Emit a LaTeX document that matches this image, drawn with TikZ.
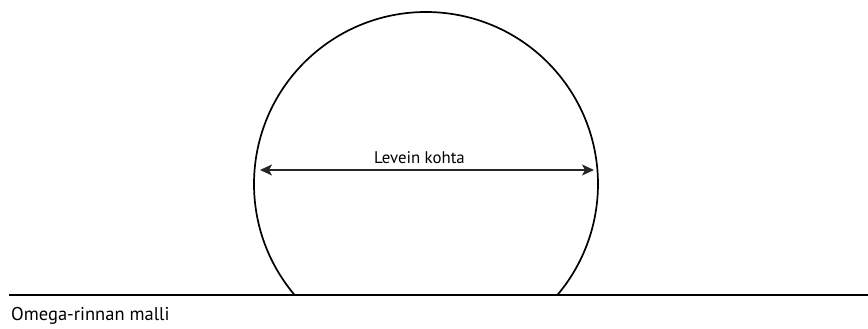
\documentclass[tikz,border=0pt]{standalone}
\usepackage{fontspec}
\setmainfont{PT Sans}
\usepackage{tikz}
\usetikzlibrary{arrows.meta,positioning,calc}

\begin{document}
\begin{tikzpicture}[
  x=1pt, y=1pt,
  outline/.style={draw=black, line width=1.7pt},
  arr/.style={{Stealth[length=12pt,width=11pt,inset=3pt]}-{Stealth[length=12pt,width=11pt,inset=3pt]}, line width=1.4pt, black!85},
  lbl/.style={inner sep=0pt, font=\fontsize{16.8}{20}\selectfont}
]
\useasboundingbox (0,0) rectangle (868,329);
% ground line and outline of the shape
\coordinate (gl) at (9,34);
\coordinate (gr) at (868,34);
\coordinate (mid) at (426,145);
\coordinate (footl) at ($(mid)+(220.06:172)$);
\draw[outline] (gl) -- (gr);
\draw[outline] (footl) arc[start angle=220.06, end angle=-40.06, radius=172];
% widest point
\coordinate (wl) at (260,159);
\coordinate (wr) at (594,159);
\draw[arr] (wl) -- (wr);
\node[lbl, anchor=base] (width) at (419.5,165) {Levein kohta};
\node[lbl, anchor=base west, font=\fontsize{18.5}{22}\selectfont] (title) at (11,8) {Omega-rinnan malli};
\end{tikzpicture}
\end{document}
